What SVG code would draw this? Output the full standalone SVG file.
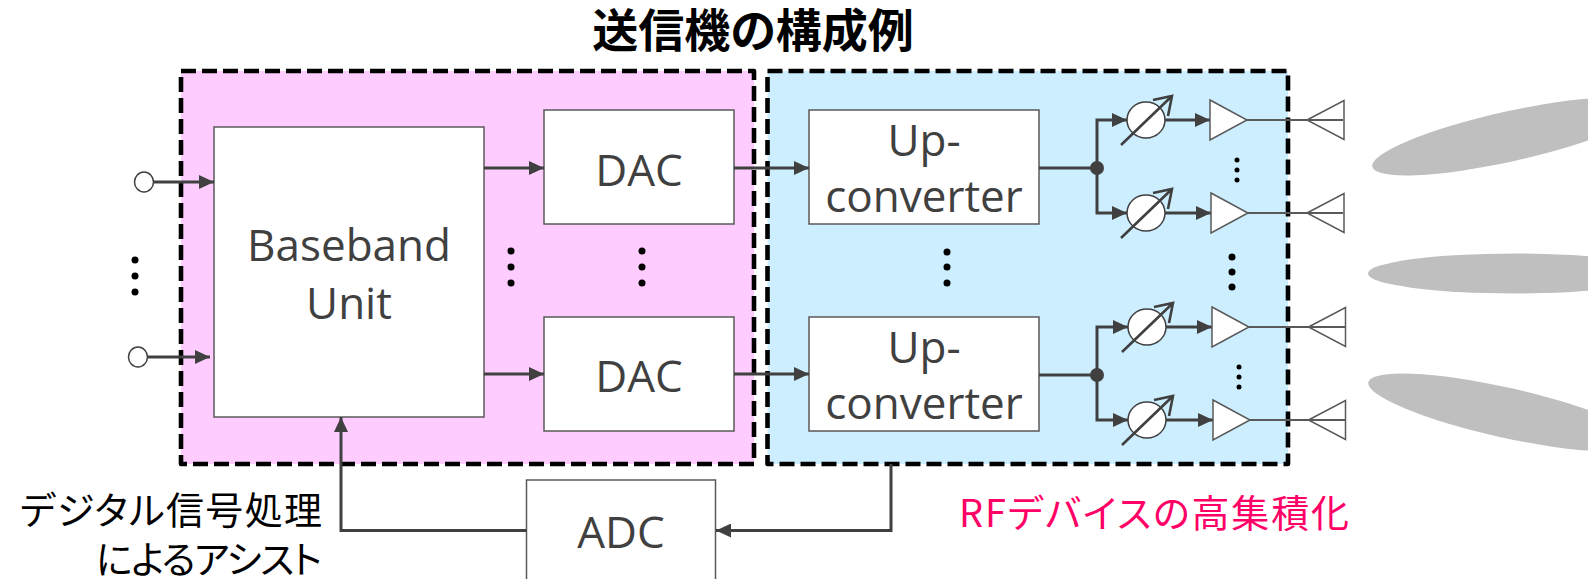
<svg xmlns="http://www.w3.org/2000/svg" xmlns:xlink="http://www.w3.org/1999/xlink" width="1588" height="579" viewBox="0 0 1588 579">
  <style>
    .zone { stroke: #000; stroke-width: 4.6; stroke-dasharray: 15 6; stroke-linejoin: round; }
    .box { fill: #fff; stroke: #595959; stroke-width: 1.5; }
    .lbl { font-family: "Open Sans", "Liberation Sans", sans-serif; font-weight: 400; font-size: 44px; fill: #404040; text-anchor: middle; }
    .jp { font-family: "Noto Sans CJK JP", sans-serif; font-feature-settings: "palt" 1; }
    .wire { fill: none; stroke: #404040; stroke-width: 3; }
    .feed { fill: none; stroke: #404040; stroke-width: 3; marker-end: url(#arrow); }
    .rf { fill: none; stroke: #595959; stroke-width: 2; }
    .dot { fill: #000; }
    .beam { fill: #bfbfbf; }
  </style>
  <defs>
    <marker id="arrow" markerUnits="userSpaceOnUse" markerWidth="16" markerHeight="14" refX="15" refY="7" orient="auto">
      <path d="M0,0 L15,7 L0,14 z" fill="#404040"/>
    </marker>
    <!-- variable phase shifter: circle with diagonal arrow -->
    <g id="ps">
      <ellipse cx="0" cy="0" rx="19" ry="18" fill="#fff" stroke="#404040" stroke-width="1.5"/>
      <path d="M-25,25 L26,-24 M7,-20 L26,-24 L22,-4" fill="none" stroke="#404040" stroke-width="2.6"/>
    </g>
    <!-- amplifier -->
    <path id="amp" d="M0,-20 L37,0 L0,20 z" fill="#fff" stroke="#595959" stroke-width="1.5"/>
    <!-- antenna element -->
    <path id="ant" d="M0,0 L37,-19.5 L37,19.5 z" fill="#fff" stroke="#595959" stroke-width="1.5"/>
  </defs>

  <!-- title -->
  <text x="753" y="47" class="jp" font-size="46" font-weight="700" text-anchor="middle" fill="#000">送信機の構成例</text>

  <!-- beams -->
  <g id="beams">
    <ellipse class="beam" cx="1509" cy="136.5" rx="140" ry="25" transform="rotate(-12.5 1509 136.5)"/>
    <ellipse class="beam" cx="1515" cy="273.5" rx="147" ry="20"/>
    <ellipse class="beam" cx="1505" cy="412.5" rx="140" ry="25" transform="rotate(12.5 1505 412.5)"/>
  </g>

  <!-- integration zones -->
  <g id="zone-digital">
    <rect class="zone" x="181" y="71" width="573" height="393" fill="#ffccff"/>
  </g>
  <g id="zone-rf">
    <rect class="zone" x="767.5" y="71" width="520.5" height="393" fill="#cceeff"/>
  </g>

  <!-- inputs -->
  <g id="inputs">
    <ellipse cx="144" cy="182" rx="9.5" ry="10" fill="#fff" stroke="#404040" stroke-width="1.5"/>
    <ellipse cx="138" cy="357" rx="9.5" ry="10" fill="#fff" stroke="#404040" stroke-width="1.5"/>
    <circle class="dot" cx="135" cy="260" r="3.5"/>
    <circle class="dot" cx="135" cy="276" r="3.5"/>
    <circle class="dot" cx="135" cy="292" r="3.5"/>
  </g>

  <g id="bbu">
    <rect class="box" x="214" y="127" width="270" height="290"/>
    <text class="lbl" x="349" y="261">Baseband</text>
    <text class="lbl" x="349" y="319">Unit</text>
  </g>

  <g id="dac1">
    <rect class="box" x="544" y="110" width="190" height="114"/>
    <text class="lbl" x="639" y="186">DAC</text>
  </g>
  <g id="dac2">
    <rect class="box" x="544" y="317" width="190" height="114"/>
    <text class="lbl" x="639" y="392">DAC</text>
  </g>

  <g id="upconv1">
    <rect class="box" x="809" y="110" width="230" height="114"/>
    <text class="lbl" x="924" y="156">Up-</text>
    <text class="lbl" x="924" y="212">converter</text>
  </g>
  <g id="upconv2">
    <rect class="box" x="809" y="317" width="230" height="114"/>
    <text class="lbl" x="924" y="363">Up-</text>
    <text class="lbl" x="924" y="419">converter</text>
  </g>

  <g id="adc">
    <rect class="box" x="526.5" y="480" width="189" height="120"/>
    <text class="lbl" x="621" y="548">ADC</text>
  </g>

  <!-- ellipsis dots between parallel chains -->
  <g id="chain-dots">
    <circle class="dot" cx="511" cy="251" r="3.5"/>
    <circle class="dot" cx="511" cy="267" r="3.5"/>
    <circle class="dot" cx="511" cy="283" r="3.5"/>
    <circle class="dot" cx="642" cy="251" r="3.5"/>
    <circle class="dot" cx="642" cy="267" r="3.5"/>
    <circle class="dot" cx="642" cy="283" r="3.5"/>
    <circle class="dot" cx="947" cy="252" r="3.5"/>
    <circle class="dot" cx="947" cy="267" r="3.5"/>
    <circle class="dot" cx="947" cy="283" r="3.5"/>
    <circle class="dot" cx="1232" cy="257" r="3.5"/>
    <circle class="dot" cx="1232" cy="272" r="3.5"/>
    <circle class="dot" cx="1232" cy="287" r="3.5"/>
    <circle class="dot" cx="1237" cy="160" r="2.5"/>
    <circle class="dot" cx="1237" cy="170" r="2.5"/>
    <circle class="dot" cx="1237" cy="180" r="2.5"/>
    <circle class="dot" cx="1239" cy="367" r="2.5"/>
    <circle class="dot" cx="1239" cy="377" r="2.5"/>
    <circle class="dot" cx="1239" cy="387" r="2.5"/>
  </g>

  <!-- phase shifters -->
  <g id="ps1"><use xlink:href="#ps" href="#ps" x="1146" y="120"/></g>
  <g id="ps2"><use xlink:href="#ps" href="#ps" x="1146" y="213"/></g>
  <g id="ps3"><use xlink:href="#ps" href="#ps" x="1147" y="327"/></g>
  <g id="ps4"><use xlink:href="#ps" href="#ps" x="1147" y="420"/></g>

  <!-- connectors -->
  <g id="connectors">
    <path class="feed" d="M153.5,182 H214"/>
    <path class="feed" d="M147.5,357 H210"/>
    <path class="feed" d="M484,168 H544"/>
    <path class="feed" d="M484,374 H544"/>
    <path class="feed" d="M734,168 H809"/>
    <path class="feed" d="M734,374 H809"/>
    <path class="wire" d="M1039,168 H1097"/>
    <path class="wire" d="M1039,375 H1097"/>
    <path class="feed" d="M1097,168 V120 H1127"/>
    <path class="feed" d="M1097,168 V213 H1127"/>
    <path class="feed" d="M1097,375 V327 H1128"/>
    <path class="feed" d="M1097,375 V420 H1128"/>
    <circle cx="1097" cy="168" r="7" fill="#404040"/>
    <circle cx="1097" cy="375" r="7" fill="#404040"/>
    <path class="feed" d="M1165,120 H1210"/>
    <path class="feed" d="M1165,213 H1211"/>
    <path class="feed" d="M1166,327 H1212"/>
    <path class="feed" d="M1166,420 H1213"/>
    <path class="rf" d="M1247,120 H1343"/>
    <path class="rf" d="M1248,213 H1343"/>
    <path class="rf" d="M1249,327 H1345"/>
    <path class="rf" d="M1250,420 H1345"/>
    <path class="feed" d="M891,464 V530.5 H716"/>
    <path class="feed" d="M526.5,530.5 H341 V417"/>
  </g>

  <!-- amplifiers -->
  <g id="amp1"><use xlink:href="#amp" href="#amp" x="1210" y="120"/></g>
  <g id="amp2"><use xlink:href="#amp" href="#amp" x="1211" y="213"/></g>
  <g id="amp3"><use xlink:href="#amp" href="#amp" x="1212" y="327"/></g>
  <g id="amp4"><use xlink:href="#amp" href="#amp" x="1213" y="420"/></g>

  <!-- antennas -->
  <g id="ant1"><use xlink:href="#ant" href="#ant" x="1307" y="120"/><path class="rf" d="M1307,120 H1343"/></g>
  <g id="ant2"><use xlink:href="#ant" href="#ant" x="1307" y="213"/><path class="rf" d="M1307,213 H1343"/></g>
  <g id="ant3"><use xlink:href="#ant" href="#ant" x="1308.5" y="327"/><path class="rf" d="M1308.5,327 H1345"/></g>
  <g id="ant4"><use xlink:href="#ant" href="#ant" x="1308.5" y="420"/><path class="rf" d="M1308.5,420 H1345"/></g>

  <!-- annotations -->
  <g id="note-dsp">
    <text class="jp" x="20" y="524" font-size="38" textLength="302" lengthAdjust="spacing" fill="#000">デジタル信号処理</text>
    <text class="jp" x="96" y="573" font-size="38" textLength="226" lengthAdjust="spacing" fill="#000">によるアシスト</text>
  </g>
  <g id="note-rf">
    <text class="jp" x="959" y="527" font-size="38" textLength="390" lengthAdjust="spacing" fill="#ff0066">RFデバイスの高集積化</text>
  </g>
</svg>
